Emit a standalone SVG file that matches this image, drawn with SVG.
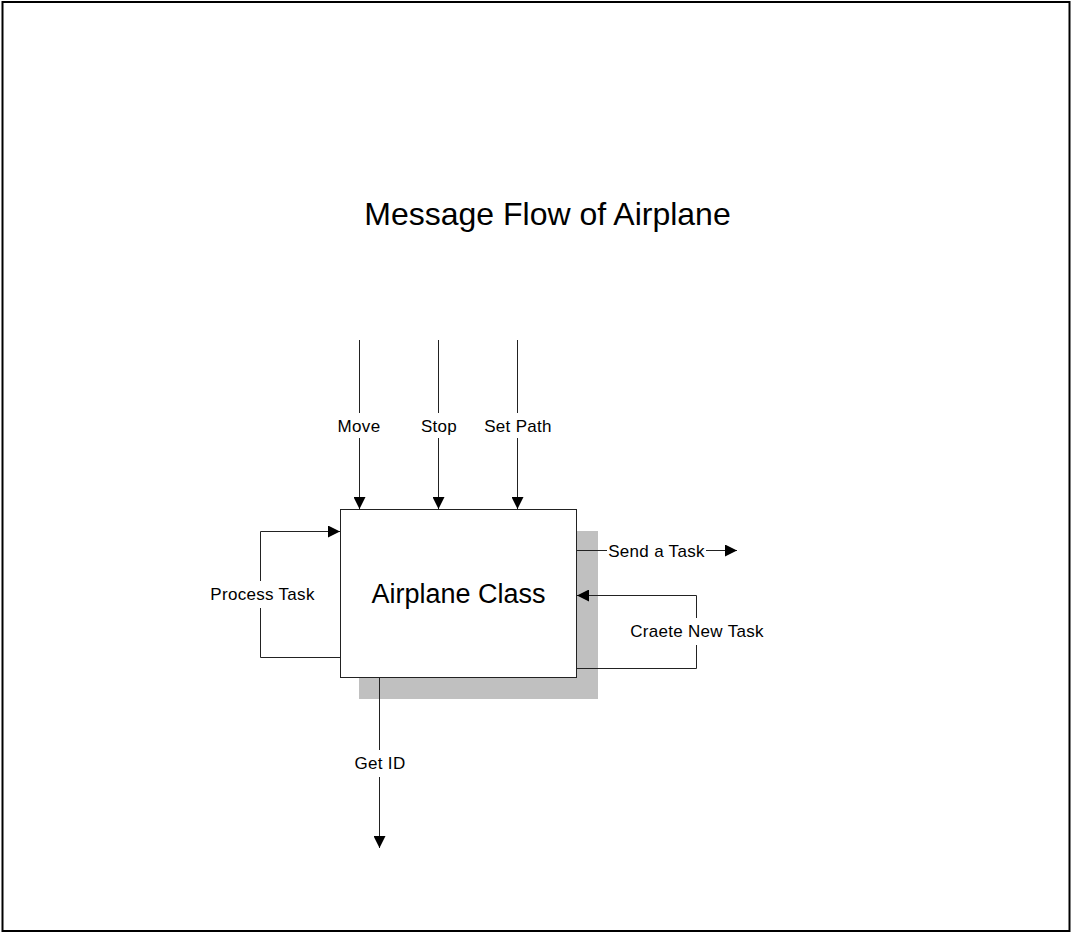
<svg xmlns="http://www.w3.org/2000/svg" width="1072" height="935" viewBox="0 0 1072 935">
  <style>
    .ln { fill: none; stroke: #222; stroke-width: 1; }
    .lbl { font-family: "Liberation Sans", Arial, sans-serif; font-size: 17px; letter-spacing: 0.3px; fill: #000; text-anchor: middle; }
    .gap { fill: #fff; }
  </style>
  <defs>
    <marker id="ah" viewBox="0 0 12 12" refX="12" refY="6" markerWidth="12" markerHeight="12" markerUnits="userSpaceOnUse" orient="auto">
      <path d="M0,0 L12,6 L0,12 Z" fill="#000"/>
    </marker>
  </defs>

  <!-- page frame -->
  <rect x="2.5" y="2" width="1067" height="929" fill="#fff" stroke="#000" stroke-width="2"/>

  <!-- title -->
  <text x="547.5" y="225" font-family="Liberation Sans, Arial, sans-serif" font-size="32" text-anchor="middle">Message Flow of Airplane</text>

  <!-- class node with drop shadow -->
  <g id="airplane-class">
    <rect x="359" y="531" width="239" height="168" fill="#c0c0c0"/>
    <rect x="340.5" y="509.5" width="236" height="168" fill="#fff" stroke="#222" stroke-width="1"/>
    <text x="458.5" y="603" font-family="Liberation Sans, Arial, sans-serif" font-size="27" text-anchor="middle">Airplane Class</text>
  </g>

  <!-- message connectors -->
  <g id="connectors">
    <g id="move">
      <line class="ln" x1="359.5" y1="340" x2="359.5" y2="509" marker-end="url(#ah)"/>
      <rect class="gap" x="333" y="413" width="52" height="25"/>
      <text class="lbl" x="359" y="432">Move</text>
    </g>
    <g id="stop">
      <line class="ln" x1="438.5" y1="340" x2="438.5" y2="509" marker-end="url(#ah)"/>
      <rect class="gap" x="417" y="413" width="44" height="25"/>
      <text class="lbl" x="439" y="432">Stop</text>
    </g>
    <g id="set-path">
      <line class="ln" x1="517.5" y1="340" x2="517.5" y2="509" marker-end="url(#ah)"/>
      <rect class="gap" x="482" y="413" width="72" height="25"/>
      <text class="lbl" x="518" y="432">Set Path</text>
    </g>
    <g id="process-task">
      <polyline class="ln" points="340,657.5 260.5,657.5 260.5,531.5 340,531.5" marker-end="url(#ah)"/>
      <rect class="gap" x="206" y="581" width="114" height="27"/>
      <text class="lbl" x="262.5" y="600">Process Task</text>
    </g>
    <g id="send-a-task">
      <line class="ln" x1="577" y1="550.5" x2="737" y2="550.5" marker-end="url(#ah)"/>
      <rect class="gap" x="607" y="539" width="99" height="23"/>
      <text class="lbl" x="656.5" y="557">Send a Task</text>
    </g>
    <g id="create-new-task">
      <polyline class="ln" points="577,668.5 696.5,668.5 696.5,595.5 577,595.5" marker-end="url(#ah)"/>
      <rect class="gap" x="626" y="618" width="142" height="27"/>
      <text class="lbl" x="697" y="637">Craete New Task</text>
    </g>
    <g id="get-id">
      <line class="ln" x1="379.5" y1="678" x2="379.5" y2="848" marker-end="url(#ah)"/>
      <rect class="gap" x="350" y="750" width="59" height="27"/>
      <text class="lbl" x="380" y="769">Get ID</text>
    </g>
  </g>
</svg>
